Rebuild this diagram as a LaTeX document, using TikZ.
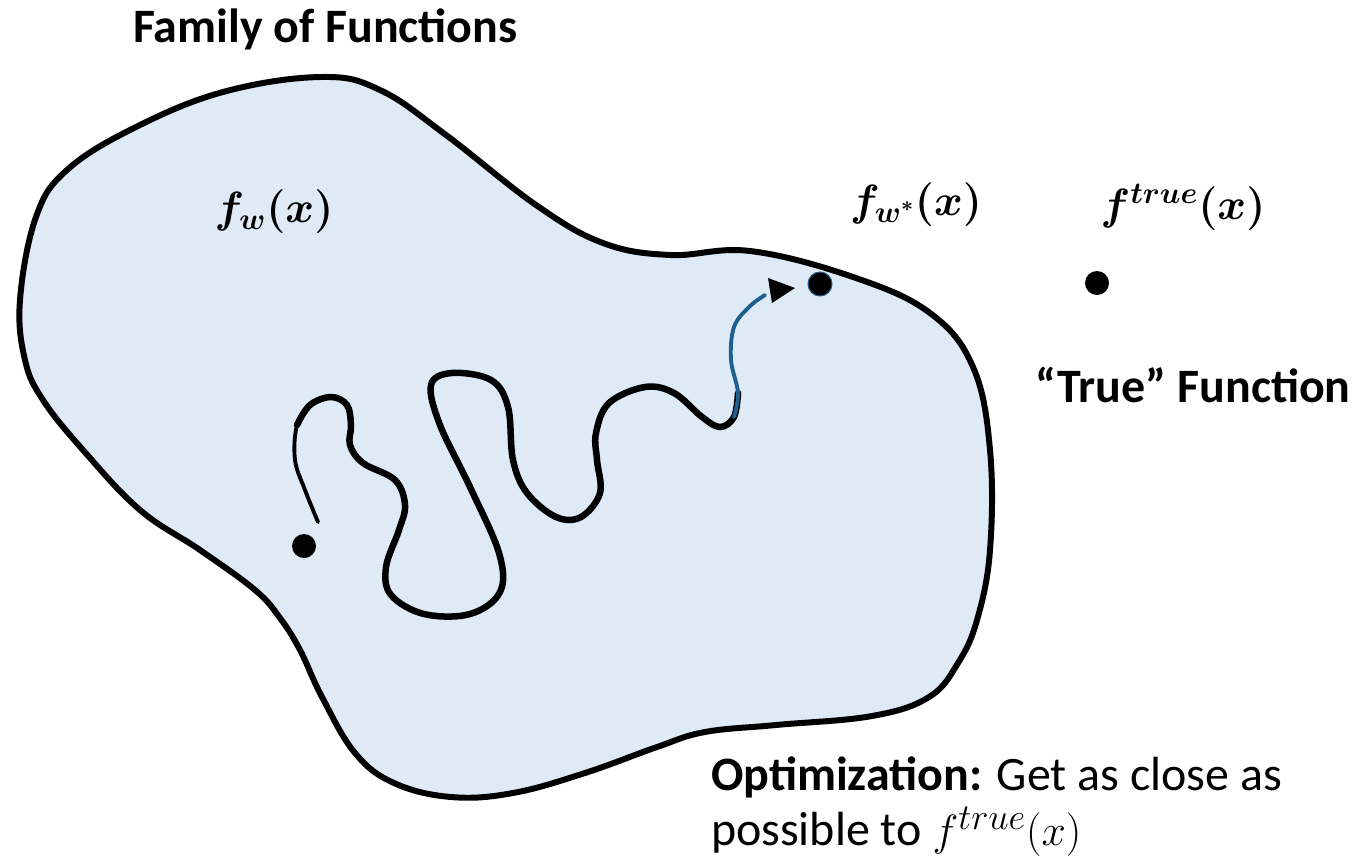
\documentclass[tikz,border=0pt]{standalone}
\usepackage{amsmath, amssymb, bm}
\usepackage{fontspec}
\setmainfont{Carlito}
\usepackage{tikz}
\usetikzlibrary{arrows.meta,positioning,calc}

\definecolor{blobfill}{RGB}{222,234,246}
\definecolor{pathblue}{RGB}{31,95,143}

\begin{document}
\begin{tikzpicture}[x=0.02cm, y=-0.02cm,
  every node/.style={inner sep=0pt, outer sep=0pt},
  blob/.style={fill=blobfill, draw=black, line width=3.4pt},
  dot/.style={circle, fill=black, minimum size=0.48cm},
  bigtext/.style={font=\fontsize{27.3}{30}\selectfont\bfseries},
  bodytext/.style={font=\fontsize{27.3}{30}\selectfont, anchor=base west},
  mathlabel/.style={font=\fontsize{25}{28}\selectfont}]

  \useasboundingbox (0,0) rectangle (1354,859);

  % === Family of functions (the blob) ===
  \draw[blob] plot[smooth cycle, tension=0.65] coordinates {
    (20,300) (36,217) (67,170) (134,128) (223,92) (321,77) (380,90)
    (446,135) (536,205) (603,243) (670,255) (750,251) (853,277)
    (930,313) (973,367) (990,450) (990,550) (977,620) (958,663)
    (929,697) (872,716) (776,725) (705,732) (657,747) (585,773)
    (513,793) (451,797) (394,783) (355,753) (322,697) (300,650)
    (280,618) (255,590) (200,550) (140,510) (83,450) (43,400) (25,360)};

  % Title
  \node[bigtext, anchor=base west] (title) at (133,42) {Family of Functions};

  % Function labels
  \node[mathlabel] (fw) at (274,212) {$\bm{f_{w}(x)}$};
  \node[mathlabel] (fwstar) at (916,205) {$\bm{f_{w^{*}}(x)}$};
  \node[mathlabel] (ftrue) at (1183,207) {$\bm{f^{true}(x)}$};

  % Points
  \node[dot] (start) at (304,546) {};
  \node[dot, draw=pathblue, line width=0.6pt] (wstar) at (820,284) {};
  \node[dot] (truept) at (1097,283) {};

  % Optimization path (thin ends, thick middle part)
  \draw[line width=2.2pt, line cap=round] plot[smooth, tension=0.6] coordinates {
    (318,522) (305,490) (295,460) (297,425) (310,405) (331,397)};
  \draw[line width=3.7pt, line cap=round] plot[smooth, tension=0.6] coordinates {
    (297,425) (310,405) (331,397) (347,405) (351,425) (350,445)
    (363,463) (395,480) (405,505) (399,530) (386,567) (391,595)
    (424,614) (470,614) (500,592) (499,553) (470,487) (440,425)
    (431,385) (452,373) (491,380) (508,407) (513,460) (527,493)
    (556,517) (581,517) (600,493) (597,460) (596,433) (609,403)
    (645,387) (674,393) (702,417) (720,427) (734,417) (738,393)};
  \draw[pathblue, line width=2.2pt, line cap=round] plot[smooth, tension=0.6] coordinates {
    (734,417) (738,393) (731,360) (734,327) (749,307) (765,295)};
  \fill (768,278) -- (795,288) -- (772,303) -- cycle;

  % Texts on the right
  \node[bigtext, anchor=base west] (truelabel) at (1035,402) {“True” Function};
  \node[bodytext] (optim) at (711,790)
    {\textbf{Optimization:} Get as close as};
  \node[bodytext] (optimend) at (711,845)
    {possible to {\fontsize{28}{30}\selectfont$f^{true}(x)$}};

\end{tikzpicture}
\end{document}
